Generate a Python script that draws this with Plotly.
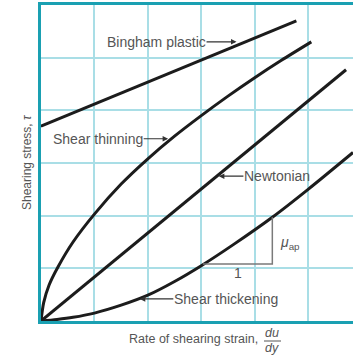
import plotly.graph_objects as go

# ---- data (grid units) ----
bingham_x = [0.0, 4.78]
bingham_y = [3.70, 5.70]

thinning_x = [0.0, 0.05, 0.15, 0.32, 0.6, 1.0, 1.5, 2.0, 2.5, 3.0, 3.5, 4.0, 4.5, 5.06]
thinning_y = [0.0, 0.35, 0.68, 1.03, 1.50, 2.03, 2.60, 3.08, 3.51, 3.90, 4.27, 4.62, 4.95, 5.30]

newton_x = [0.0, 5.71]
newton_y = [0.0, 4.77]

thick_x = [0.0, 0.3, 0.6, 1.0, 1.5, 2.0, 2.5, 3.0, 3.6, 4.33, 5.0, 5.84]
thick_y = [0.0, 0.03, 0.07, 0.15, 0.30, 0.49, 0.75, 1.05, 1.45, 1.97, 2.50, 3.20]

tri_x = [3.03, 4.33, 4.33]
tri_y = [1.08, 1.08, 1.97]

labels = ["Bingham plastic", "Shear thinning", "Newtonian", "Shear thickening"]
label_tip_x = [3.66, 2.38, 3.33, 1.85]
label_tip_y = [5.30, 3.46, 2.75, 0.42]
label_offset = [-80, -70, 58, 86]

X_MAX, Y_MAX = 5.84, 6.0
L, T, W, H = 41, 5, 353, 355
B = 34
PW, PH = W - L, H - T - B

def px(x):
    return (x - L) / PW

def py(y):
    return (H - B - y) / PH

curve = dict(color="#1c1c1c", width=3)
fig = go.Figure()
for xs, ys in [(bingham_x, bingham_y), (thinning_x, thinning_y),
               (newton_x, newton_y), (thick_x, thick_y)]:
    fig.add_trace(go.Scatter(x=xs, y=ys, mode="lines", line=dict(shape="spline", smoothing=0.8, **curve),
                             hoverinfo="skip", showlegend=False))
fig.add_trace(go.Scatter(x=tri_x, y=tri_y, mode="lines", line=dict(color="#7a7a7a", width=1.5),
                         hoverinfo="skip", showlegend=False))

txt = "#555555"
ann = []
for lab, tx, ty, off in zip(labels, label_tip_x, label_tip_y, label_offset):
    ann.append(dict(x=tx, y=ty, xref="x", yref="y", text=lab, showarrow=True, ax=off, ay=0,
                    arrowhead=2, arrowsize=1, arrowwidth=1.1, arrowcolor="#333333",
                    font=dict(size=14, color=txt), borderpad=0))
ann.append(dict(x=3.69, y=0.91, xref="x", yref="y", text="1", showarrow=False,
                xanchor="center", yanchor="middle", font=dict(size=14, color=txt)))
ann.append(dict(x=4.66, y=1.48, xref="x", yref="y", text="<i>μ</i><sub>ap</sub>", showarrow=False,
                xanchor="center", yanchor="middle", font=dict(size=14, color=txt)))
# axis titles
ann.append(dict(x=px(27), y=py(162), xref="paper", yref="paper", text="Shearing stress, <i>τ</i>",
                textangle=-90, showarrow=False, xanchor="center", yanchor="middle",
                font=dict(size=12, color=txt)))
ann.append(dict(x=px(193), y=py(339), xref="paper", yref="paper", text="Rate of shearing strain,",
                showarrow=False, xanchor="center", yanchor="middle", font=dict(size=12.5, color=txt)))
ann.append(dict(x=px(272), y=py(333), xref="paper", yref="paper", text="<i>du</i>",
                showarrow=False, xanchor="center", yanchor="middle", font=dict(size=12.5, color=txt)))
ann.append(dict(x=px(272), y=py(348), xref="paper", yref="paper", text="<i>dy</i>",
                showarrow=False, xanchor="center", yanchor="middle", font=dict(size=12.5, color=txt)))

shapes = [dict(type="line", xref="paper", yref="paper", x0=px(264), x1=px(281), y0=py(341), y1=py(341),
               line=dict(color=txt, width=1))]

axis_common = dict(showticklabels=False, ticks="", zeroline=False, showgrid=True,
                   gridcolor="#a9dee6", gridwidth=1.5, dtick=1, tick0=0,
                   showline=True, linecolor="#1aa0b2", linewidth=2.5, fixedrange=True)
fig.update_layout(
    width=W, height=H,
    margin=dict(l=L, r=0, t=T, b=B),
    paper_bgcolor="white", plot_bgcolor="white",
    font=dict(family="Liberation Sans, Arial, sans-serif"),
    xaxis=dict(range=[0, X_MAX], mirror=True, **axis_common),
    yaxis=dict(range=[0, Y_MAX], **axis_common),
    annotations=ann, shapes=shapes, showlegend=False, hovermode=False,
)
fig.write_html("out.html", config={"displayModeBar": False},
               post_script="document.body.style.margin='0';document.body.style.overflow='hidden';")
